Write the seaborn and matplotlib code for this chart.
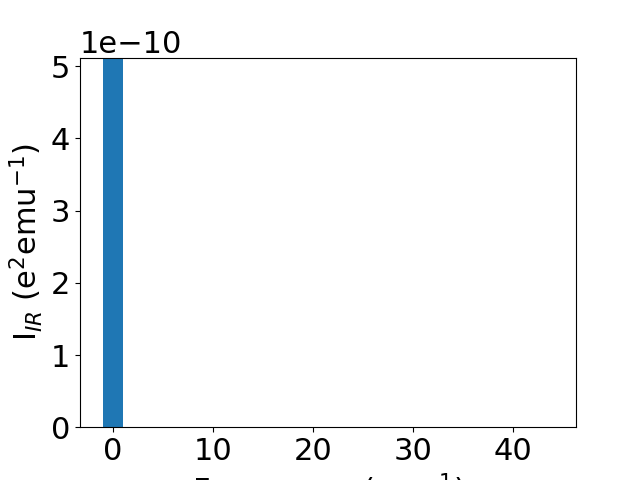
import numpy as np
import pandas as pd
import matplotlib
matplotlib.use('Agg')
import matplotlib.pyplot as plt
import seaborn as sns

# IR spectrum: mode frequencies (cm^-1) and intensities
freqs = [0.0, 43.0]
intensities = [5.12e-10, 0.0]

df = pd.DataFrame({'freq': freqs, 'intensity': intensities})

plt.rcParams['font.size'] = 22
fig, ax = plt.subplots(figsize=(6.4, 4.8), dpi=100)

# bar width of 2 cm^-1 (seaborn scales width by the min spacing in native scale)
spacing = np.diff(sorted(freqs)).min()
sns.barplot(data=df, x='freq', y='intensity', native_scale=True,
            width=2.0 / spacing, color='#1f77b4', saturation=1, ax=ax)

ax.set_ylim(0, max(intensities))
ax.set_xlabel('Frequency (cm$^{-1}$)')
ax.set_ylabel('I$_{IR}$ (e$^2$emu$^{-1}$)')

plt.savefig('out.png')
